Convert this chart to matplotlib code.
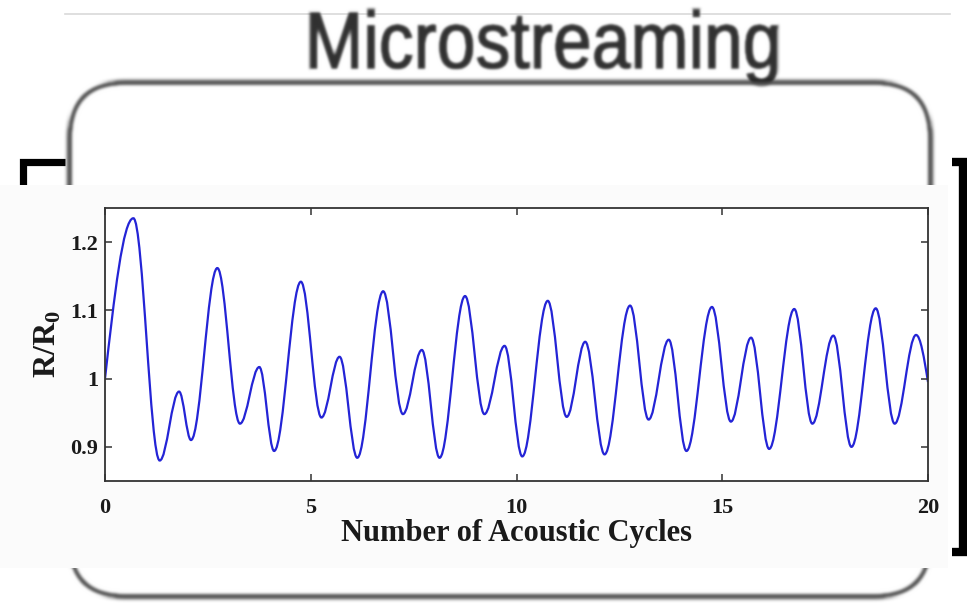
import numpy as np
import matplotlib
matplotlib.use("Agg")
import matplotlib.pyplot as plt
import matplotlib.transforms as mtransforms
from matplotlib.path import Path
from matplotlib.patches import PathPatch, FancyBboxPatch, Rectangle
from matplotlib.textpath import TextPath
from matplotlib.font_manager import FontProperties

# bubble radius: turning points of R/R0 over the acoustic cycles
cycles = [0.0, 0.69, 1.33, 1.80, 2.09, 2.73, 3.28, 3.75, 4.11, 4.76, 5.26,
          5.70, 6.13, 6.76, 7.24, 7.70, 8.13, 8.75, 9.22, 9.71, 10.14, 10.76,
          11.22, 11.67, 12.14, 12.76, 13.21, 13.70, 14.13, 14.75, 15.21, 15.70,
          16.14, 16.75, 17.19, 17.70, 18.14, 18.73, 19.19, 19.71, 20.0]
radius = [1.000, 1.235, 0.880, 0.981, 0.910, 1.162, 0.934, 1.017, 0.894, 1.142,
          0.943, 1.032, 0.884, 1.128, 0.948, 1.042, 0.884, 1.121, 0.948, 1.048,
          0.886, 1.114, 0.944, 1.054, 0.889, 1.107, 0.940, 1.057, 0.894, 1.105,
          0.937, 1.060, 0.897, 1.102, 0.934, 1.063, 0.900, 1.103, 0.934, 1.064,
          0.995]

x_ticks = [0, 5, 10, 15, 20]
y_ticks = [0.9, 1.0, 1.1, 1.2]
y_tick_labels = ["0.9", "1", "1.1", "1.2"]
banner = "Microstreaming"

plt.rcParams["mathtext.fontset"] = "custom"
plt.rcParams["mathtext.bf"] = "Liberation Serif:bold"
plt.rcParams["mathtext.rm"] = "Liberation Serif:bold"


def blur(sigma):
    # gaussian blur used as agg_filter for the washed-out background
    r = int(3 * sigma)
    k = np.exp(-np.arange(-r, r + 1) ** 2 / (2.0 * sigma ** 2))
    k /= k.sum()

    def filt(img, dpi):
        a = np.pad(img, ((2 * r, 2 * r), (2 * r, 2 * r), (0, 0)))
        h, w = a.shape[:2]
        b = sum(k[i] * a[i:h - 2 * r + i] for i in range(2 * r + 1))
        c = sum(k[i] * b[:, i:w - 2 * r + i] for i in range(2 * r + 1))
        return c, -r, -r
    return filt


def smooth_path(t, v):
    # cubic segments between turning points, flat tangents at the extrema
    verts = [(t[0], v[0])]
    codes = [Path.MOVETO]
    n = len(t)
    for i in range(n - 1):
        t0, v0, t1, v1 = t[i], v[i], t[i + 1], v[i + 1]
        dt = t1 - t0
        if i == 0:
            c1 = (t0 + 0.326 * dt, v0 + 0.512 * (v1 - v0))
            c2 = (t1 - 0.362 * dt, v1)
        elif i == n - 2:
            c1 = (t0 + 0.362 * dt, v0)
            c2 = (t1 - 0.326 * dt, v1 + 0.512 * (v0 - v1))
        else:
            c1 = (t0 + 0.363 * dt, v0)
            c2 = (t1 - 0.363 * dt, v1)
        verts += [c1, c2, (t1, v1)]
        codes += [Path.CURVE4] * 3
    return Path(verts, codes)


fig = plt.figure(figsize=(9.67, 6.08), dpi=100)
fig.patch.set_facecolor("white")

# ---- backdrop in pixel units ----
bg = fig.add_axes([0, 0, 1, 1], zorder=0)
bg.set_xlim(0, 967)
bg.set_ylim(608, 0)
bg.axis("off")

bg.plot([65, 950], [14, 14], color="#d9d9d9", lw=1.2)

# heading, drawn as a path so it can be squeezed to width and blurred
tp = TextPath((0, 0), banner, size=80, prop=FontProperties(family="Liberation Sans"))
ext = tp.get_extents()
tr = (mtransforms.Affine2D()
      .translate(-(ext.x0 + ext.x1) / 2, 0)
      .scale(466 / ext.width, -1)
      .translate(544, 68))
title = PathPatch(tr.transform_path(tp), fc="#303030", ec="#303030", lw=1.6, zorder=2)
title.set_agg_filter(blur(1.5))
bg.add_patch(title)

frame = FancyBboxPatch((70, 83), 860, 513, boxstyle="round,pad=0,rounding_size=55",
                       fc="none", ec="#444444", lw=3.8, zorder=2)
frame.set_agg_filter(blur(1.8))
bg.add_patch(frame)

# left bracket sits under the plot panel
bg.plot([65, 23, 23], [161.5, 161.5, 556], color="black", lw=5.2,
        solid_joinstyle="miter", solid_capstyle="butt", zorder=3)
bg.add_patch(Rectangle((0, 185), 948, 383, fc="#fbfbfb", ec="none", zorder=4))
bg.plot([952, 963, 963, 952], [161.5, 161.5, 552, 552], color="black", lw=6,
        solid_joinstyle="miter", solid_capstyle="butt", zorder=5)

# ---- radius-time curve ----
ax = fig.add_axes([105 / 967, 1 - 481 / 608, 823 / 967, 273 / 608], zorder=1)
ax.set_facecolor("white")
ax.add_patch(PathPatch(smooth_path(cycles, radius), fill=False, ec="#2424d6", lw=1.6))
ax.set_xlim(0, 20)
ax.set_ylim(0.85, 1.25)

ax.set_xticks(x_ticks)
ax.set_xticklabels([str(x) for x in x_ticks])
ax.set_yticks(y_ticks)
ax.set_yticklabels(y_tick_labels)
ax.tick_params(direction="in", top=True, right=True, length=5, width=1.1,
               color="#333333", labelsize=16)
ax.tick_params(axis="x", pad=12)
ax.tick_params(axis="y", pad=5)
for lab in ax.get_xticklabels() + ax.get_yticklabels():
    lab.set_fontfamily("Liberation Serif")
    lab.set_fontweight("bold")
    lab.set_color("#1a1a1a")
for s in ax.spines.values():
    s.set_color("#333333")
    s.set_linewidth(1.3)

ax.set_xlabel("Number of Acoustic Cycles", fontsize=22, fontfamily="Liberation Serif",
              fontweight="bold", color="#1a1a1a", labelpad=1)
ax.set_ylabel(r"R/R$_\mathbf{0}$", fontsize=23, fontfamily="Liberation Serif",
              fontweight="bold", color="#1a1a1a", labelpad=5)

fig.savefig("out.png", dpi=100)
